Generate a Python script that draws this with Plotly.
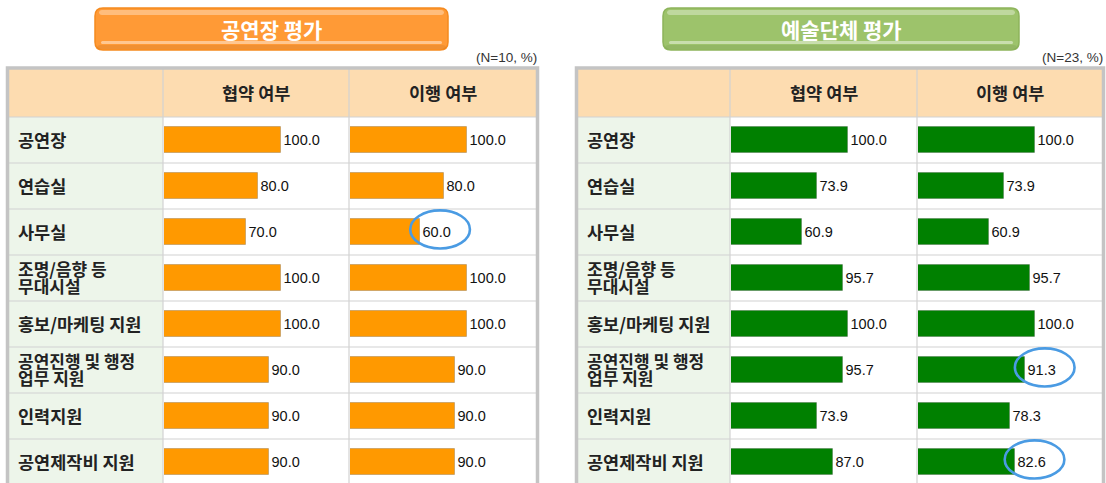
import plotly.graph_objects as go

W, H = 1106, 483

# ---------------- data ----------------
categories = ['공연장', '연습실', '사무실', '조명/음향 등<br>무대시설', '홍보/마케팅 지원',
              '공연진행 및 행정<br>업무 지원', '인력지원', '공연제작비 지원']
column_labels = ['협약 여부', '이행 여부']
venue_agreement = [100.0, 80.0, 70.0, 100.0, 100.0, 90.0, 90.0, 90.0]
venue_fulfillment = [100.0, 80.0, 60.0, 100.0, 100.0, 90.0, 90.0, 90.0]
group_agreement = [100.0, 73.9, 60.9, 95.7, 100.0, 95.7, 73.9, 87.0]
group_fulfillment = [100.0, 73.9, 60.9, 95.7, 100.0, 91.3, 78.3, 82.6]
panel_titles = ['공연장 평가', '예술단체 평가']
panel_notes = ['(N=10, %)', '(N=23, %)']
# highlighted cells: (panel, column, row)
highlights = [(0, 1, 2), (1, 1, 5), (1, 1, 7)]

# ---------------- layout helpers ----------------
def px(x):
    return x / W

def py(y):
    return 1 - y / H

FONT_KR = "Noto Sans CJK KR"
FONT_NUM = "Liberation Sans"
HEADER_TOP, HEADER_BOT, ROW_H = 69, 117, 46
PX_PER_UNIT = 1.17
n_rows = len(categories)

panels = [
    dict(left=8, label_right=163, cols=[163, 349, 537], color='#FF9900',
         series=[venue_agreement, venue_fulfillment],
         button=(95, 8, 448, 50), btn_fill='#FF9A36', btn_edge='#F58A1F'),
    dict(left=577, label_right=730, cols=[730, 917, 1103], color='#008000',
         series=[group_agreement, group_fulfillment],
         button=(663, 8, 1019, 50), btn_fill='#9DC36B', btn_edge='#8DB45B'),
]

fig = go.Figure()
shapes, annotations = [], []

def rrect_path(x0, y0, x1, y1, r):
    rx, ry = r / W, r / H
    X0, X1, Y0, Y1 = px(x0), px(x1), py(y0), py(y1)
    return (f"M{X0+rx},{Y0} L{X1-rx},{Y0} Q{X1},{Y0} {X1},{Y0-ry} "
            f"L{X1},{Y1+ry} Q{X1},{Y1} {X1-rx},{Y1} L{X0+rx},{Y1} "
            f"Q{X0},{Y1} {X0},{Y1+ry} L{X0},{Y0-ry} Q{X0},{Y0} {X0+rx},{Y0} Z")

axis_idx = 0
ydom_top = py(HEADER_BOT)
visible_rows = (H - HEADER_BOT) / ROW_H
y_range = [-0.5 + visible_rows, -0.5]

for p_i, p in enumerate(panels):
    L, LR, cols = p['left'], p['label_right'], p['cols']
    right = cols[-1]
    # backgrounds
    shapes.append(dict(type='rect', xref='paper', yref='paper', layer='below',
                       x0=px(L), x1=px(right), y0=py(HEADER_TOP), y1=py(HEADER_BOT),
                       fillcolor='#FDDCB0', line=dict(width=0)))
    shapes.append(dict(type='rect', xref='paper', yref='paper', layer='below',
                       x0=px(L), x1=px(LR), y0=0, y1=py(HEADER_BOT),
                       fillcolor='#EDF5EA', line=dict(width=0)))
    # horizontal grid lines
    for r in range(n_rows + 1):
        yy = HEADER_BOT + ROW_H * r
        if yy > H:
            break
        shapes.append(dict(type='line', xref='paper', yref='paper', layer='above',
                           x0=px(L), x1=px(right), y0=py(yy), y1=py(yy),
                           line=dict(color='#D2D2D2', width=1.2)))
    # vertical grid lines
    for cx in cols[:-1]:
        shapes.append(dict(type='line', xref='paper', yref='paper', layer='above',
                           x0=px(cx), x1=px(cx), y0=0, y1=py(HEADER_TOP),
                           line=dict(color='#D2D2D2', width=1.2)))
    # outer border
    shapes.append(dict(type='rect', xref='paper', yref='paper', layer='above',
                       x0=px(L - 0.5), x1=px(right + 0.5), y0=py(H + 5), y1=py(HEADER_TOP - 1),
                       line=dict(color='#C4C4C4', width=3.5)))
    # title button
    bx0, by0, bx1, by1 = p['button']
    shapes.append(dict(type='path', xref='paper', yref='paper', path=rrect_path(bx0, by0, bx1, by1, 8),
                       fillcolor=p['btn_fill'], line=dict(color=p['btn_edge'], width=1.5)))
    shapes.append(dict(type='path', xref='paper', yref='paper',
                       path=rrect_path(bx0 + 4, by0 + 2, bx1 - 4, by0 + 7, 3),
                       fillcolor='rgba(255,255,255,0.35)', line=dict(width=0)))
    shapes.append(dict(type='path', xref='paper', yref='paper',
                       path=rrect_path(bx0 + 6, by1 - 9, bx1 - 6, by1 - 6, 1.5),
                       fillcolor='rgba(255,255,255,0.45)', line=dict(width=0)))
    shapes.append(dict(type='path', xref='paper', yref='paper',
                       path=rrect_path(bx0 + 2, by1 - 5, bx1 - 2, by1 - 1, 3),
                       fillcolor='rgba(0,0,0,0.06)', line=dict(width=0)))
    annotations.append(dict(xref='paper', yref='paper', x=px((bx0 + bx1) / 2), y=py((by0 + by1) / 2),
                            text=f"<b>{panel_titles[p_i]}</b>", showarrow=False,
                            font=dict(family=FONT_KR, size=21, color='white'),
                            xanchor='center', yanchor='middle'))
    # N note
    annotations.append(dict(xref='paper', yref='paper', x=px(right + 2), y=py(57),
                            text=panel_notes[p_i], showarrow=False,
                            font=dict(family=FONT_NUM, size=13.5, color='#333333'),
                            xanchor='right', yanchor='middle'))
    # column headers
    for c_i, lab in enumerate(column_labels):
        annotations.append(dict(xref='paper', yref='paper',
                                x=px((cols[c_i] + cols[c_i + 1]) / 2), y=py(92),
                                text=f"<b>{lab}</b>", showarrow=False,
                                font=dict(family=FONT_KR, size=17.5, color='#222222'),
                                xanchor='center', yanchor='middle'))
    # bar subplots
    first_axis = None
    for c_i, values in enumerate(p['series']):
        axis_idx += 1
        sfx = '' if axis_idx == 1 else str(axis_idx)
        xa, ya = f'xaxis{sfx}', f'yaxis{sfx}'
        x0p, x1p = cols[c_i] + 1, cols[c_i + 1]
        fig.add_trace(go.Bar(
            x=values, y=categories, orientation='h',
            xaxis=f'x{sfx}', yaxis=f'y{sfx}', width=0.58,
            marker=dict(color=p['color'], line=dict(color='rgba(0,0,0,0.18)', width=1)),
            texttemplate='%{x:.1f}', textposition='outside', cliponaxis=False,
            textfont=dict(family=FONT_NUM, size=14.5, color='#111111'),
            hoverinfo='skip', showlegend=False))
        fig.update_layout(**{
            xa: dict(domain=[px(x0p), px(x1p)], range=[0, (x1p - x0p) / PX_PER_UNIT],
                     visible=False, fixedrange=True, anchor=f'y{sfx}'),
            ya: dict(domain=[0, ydom_top], type='category', categoryarray=categories,
                     range=y_range, visible=False, fixedrange=True, anchor=f'x{sfx}'),
        })
        if first_axis is None:
            first_axis = sfx
        for (hp, hc, hr) in highlights:
            if hp == p_i and hc == c_i:
                v = values[hr]
                shapes.append(dict(type='circle', xref=f'x{sfx}', yref=f'y{sfx}', layer='above',
                                   x0=v - 8.5, x1=v + 42.5, y0=hr - 0.47, y1=hr + 0.36,
                                   line=dict(color='#4A9BE3', width=2.6)))
    # row labels (two-line labels drawn as two tightly spaced lines, as in the reference)
    for r_i, cat in enumerate(categories):
        lines = cat.split('<br>')
        n = len(lines)
        for l_i, line in enumerate(lines):
            shift = (-(n - 1) / 2 + l_i) * -17.5
            annotations.append(dict(xref='paper', yref=f'y{first_axis}', x=px(L + 8), y=r_i,
                                    yshift=shift + 1, text=f"<b>{line}</b>", showarrow=False,
                                    font=dict(family=FONT_KR, size=17 if n > 1 else 17.5,
                                              color='#222222'),
                                    xanchor='left', yanchor='middle'))

fig.update_layout(width=W, height=H, margin=dict(l=0, r=0, t=0, b=0),
                  paper_bgcolor='white', plot_bgcolor='rgba(0,0,0,0)',
                  shapes=shapes, annotations=annotations, bargap=0)

fig.write_html("out.html", config=dict(displayModeBar=False),
               post_script="document.body.style.margin='0';document.body.style.overflow='hidden';")
